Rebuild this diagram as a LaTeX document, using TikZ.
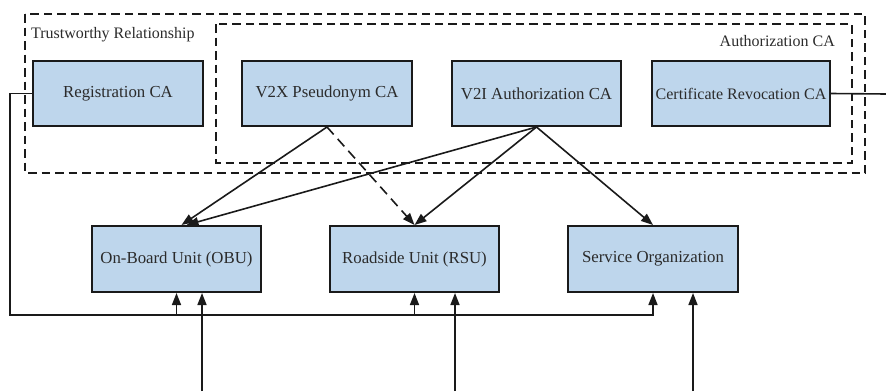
\documentclass[tikz,border=0pt]{standalone}
\usepackage{fontspec}
\setmainfont{Liberation Serif}
\usetikzlibrary{arrows.meta}
\definecolor{boxfill}{HTML}{BED6EC}
\definecolor{inkline}{HTML}{1A1A1A}
\definecolor{inktext}{HTML}{2B2B2B}
\tikzset{
  unitbox/.style={draw=inkline, line width=2pt, fill=boxfill, inner sep=0pt,
    text=inktext, font=\fontsize{16.8}{19}\selectfont},
  groupframe/.style={draw=inkline, line width=1.8pt, dash pattern=on 8.5pt off 5pt},
  link/.style={draw=inkline, line width=1.6pt, -{Triangle[length=12pt,width=9pt]}},
  plainlink/.style={draw=inkline, line width=1.6pt},
  dlink/.style={link, dash pattern=on 10pt off 6pt},
  grouplabel/.style={text=inktext, font=\fontsize{16}{18}\selectfont, inner sep=0pt},
}
\begin{document}
\begin{tikzpicture}[x=1pt, y=-1pt]
\useasboundingbox (0,0) rectangle (886,391);

% group frames
\draw[groupframe] (25,14) rectangle (865,173);
\draw[groupframe] (216,24) rectangle (852,163);
\node[grouplabel, anchor=base west] (trust) at (31,38) {Trustworthy Relationship};
\node[grouplabel, anchor=base east] (authlbl) at (835,46) {Authorization CA};

% certificate authorities
\node[unitbox, minimum width=170pt, minimum height=65pt] (reg) at (118,93.5) {Registration CA};
\node[unitbox, minimum width=170pt, minimum height=65pt] (v2x) at (327,93.5) {V2X Pseudonym CA};
\node[unitbox, minimum width=169pt, minimum height=65pt] (v2i) at (536.5,93.5) {V2I Authorization CA};
\node[unitbox, minimum width=178pt, minimum height=65pt, font=\fontsize{16}{18}\selectfont] (crl) at (741,93.5) {Certificate Revocation CA};

% end entities
\begin{scope}[every node/.append style={font=\fontsize{16.2}{18}\selectfont}]
\node[unitbox, minimum width=169pt, minimum height=66pt] (obu) at (176.5,259) {On-Board Unit (OBU)};
\node[unitbox, minimum width=169pt, minimum height=66pt] (rsu) at (414.5,259) {Roadside Unit (RSU)};
\node[unitbox, minimum width=170pt, minimum height=66pt] (svc) at (653,259) {Service Organization};
\end{scope}

% issuing relations
\draw[link] (v2x.south) -- ([xshift=5pt]obu.north);
\draw[link] (v2i.south) -- ([xshift=10pt]obu.north);
\draw[dlink] (v2x.south) -- (rsu.north);
\draw[link] (v2i.south) -- (rsu.north);
\draw[link] (v2i.south) -- (svc.north);

% revocation line leaving to the right
\coordinate (crlout) at (886,94);
\draw[plainlink] (crl.east) -- (crlout);

% registration bus
\coordinate (busL) at (10,315);
\coordinate (busO) at (176.5,315);
\coordinate (busR) at (414.5,315);
\draw[plainlink] (reg.west) -| (busL) -- (busR);
\draw[link] (busL) -| (svc.south);
\draw[link] (busO) -- (obu.south);
\draw[link] (busR) -- (rsu.south);

% inputs from below
\coordinate (inO) at (202,391);
\coordinate (inR) at (455,391);
\coordinate (inS) at (693,391);
\draw[link] (inO) -- (inO |- obu.south);
\draw[link] (inR) -- (inR |- rsu.south);
\draw[link] (inS) -- (inS |- svc.south);
\end{tikzpicture}
\end{document}
